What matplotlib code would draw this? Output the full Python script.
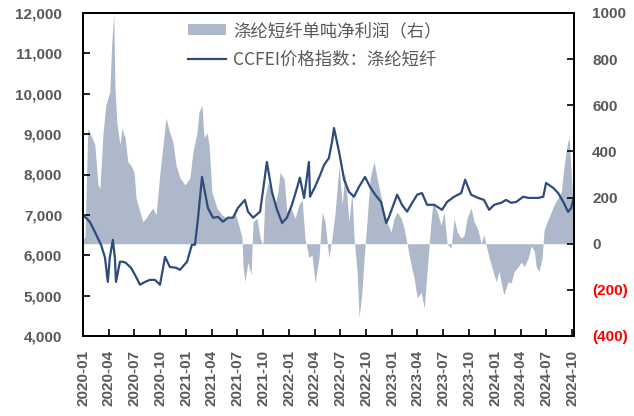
import matplotlib
matplotlib.use("Agg")
import matplotlib.pyplot as plt
import matplotlib.dates as mdates
import matplotlib.ticker as mticker
import pandas as pd

# CCFEI price index: polyester staple fibre (yuan/ton, left axis)
price_dates = [
    "2020-01-01", "2020-01-25", "2020-02-12", "2020-03-05", "2020-03-19", "2020-03-29",
    "2020-04-05", "2020-04-16", "2020-04-23", "2020-04-27", "2020-05-11", "2020-05-22",
    "2020-06-01", "2020-06-19", "2020-07-03", "2020-07-21", "2020-08-08", "2020-08-25",
    "2020-09-12", "2020-09-30", "2020-10-18", "2020-11-04", "2020-11-26", "2020-12-10",
    "2021-01-04", "2021-01-21", "2021-02-01", "2021-02-12", "2021-02-26", "2021-03-08",
    "2021-03-19", "2021-04-06", "2021-04-24", "2021-05-11", "2021-05-29", "2021-06-16",
    "2021-07-03", "2021-07-28", "2021-08-08", "2021-08-26", "2021-09-20", "2021-10-14",
    "2021-11-01", "2021-11-19", "2021-12-07", "2021-12-24", "2022-01-11", "2022-01-29",
    "2022-02-08", "2022-02-23", "2022-03-12", "2022-03-16", "2022-04-03", "2022-04-21",
    "2022-05-05", "2022-05-22", "2022-06-02", "2022-06-09", "2022-06-27", "2022-07-15",
    "2022-08-01", "2022-08-19", "2022-09-06", "2022-09-27", "2022-10-15", "2022-11-02",
    "2022-11-23", "2022-12-11", "2022-12-21", "2023-01-19", "2023-02-05", "2023-02-23",
    "2023-03-09", "2023-03-31", "2023-04-17", "2023-05-05", "2023-05-30", "2023-06-27",
    "2023-07-15", "2023-08-09", "2023-09-03", "2023-09-17", "2023-10-08", "2023-11-02",
    "2023-11-23", "2023-12-11", "2023-12-29", "2024-01-23", "2024-02-09", "2024-02-27",
    "2024-03-16", "2024-04-10", "2024-04-28", "2024-06-02", "2024-06-20", "2024-06-30",
    "2024-07-25", "2024-08-12", "2024-08-30", "2024-09-16", "2024-09-27", "2024-10-04",
]
price_values = [
    7000, 6830, 6580, 6260, 5940, 5340,
    5940, 6380, 5940, 5340, 5840, 5840,
    5810, 5690, 5520, 5270, 5340, 5390,
    5390, 5270, 5960, 5710, 5690, 5640,
    5840, 6260, 6260, 6930, 7940, 7570,
    7170, 6930, 6950, 6830, 6930, 6930,
    7170, 7370, 7080, 6930, 7080, 8310,
    7570, 7125, 6800, 6930, 7250, 7670,
    7920, 7420, 8310, 7450, 7700, 7990,
    8240, 8410, 8810, 9150, 8560, 7870,
    7570, 7450, 7700, 7940, 7690, 7500,
    7320, 6800, 6950, 7500, 7250, 7080,
    7250, 7500, 7540, 7250, 7250, 7125,
    7320, 7450, 7540, 7870, 7500, 7420,
    7370, 7125, 7250, 7300, 7370, 7300,
    7320, 7450, 7420, 7420, 7450, 7790,
    7670, 7540, 7320, 7075, 7170, 7370,
]

# Net profit per ton of polyester staple fibre (yuan/ton, right axis)
profit_dates = [
    "2020-01-01", "2020-01-08", "2020-01-18", "2020-01-29", "2020-02-12", "2020-02-23",
    "2020-03-01", "2020-03-12", "2020-03-22", "2020-04-05", "2020-04-12", "2020-04-19",
    "2020-04-23", "2020-04-30", "2020-05-11", "2020-05-18", "2020-05-29", "2020-06-08",
    "2020-06-19", "2020-06-30", "2020-07-07", "2020-07-21", "2020-07-31", "2020-08-11",
    "2020-08-25", "2020-09-05", "2020-09-16", "2020-09-30", "2020-10-11", "2020-10-21",
    "2020-11-04", "2020-11-15", "2020-11-26", "2020-12-10", "2020-12-28", "2021-01-14",
    "2021-01-25", "2021-02-08", "2021-02-15", "2021-02-26", "2021-03-05", "2021-03-16",
    "2021-03-23", "2021-04-02", "2021-04-20", "2021-05-08", "2021-05-25", "2021-06-05",
    "2021-06-23", "2021-07-03", "2021-07-18", "2021-07-21", "2021-07-28", "2021-08-08",
    "2021-08-19", "2021-08-26", "2021-09-09", "2021-09-20", "2021-09-30", "2021-10-07",
    "2021-10-18", "2021-11-01", "2021-11-12", "2021-11-22", "2021-11-30", "2021-12-14",
    "2021-12-24", "2022-01-04", "2022-01-22", "2022-02-05", "2022-02-16", "2022-02-26",
    "2022-03-12", "2022-03-23", "2022-04-03", "2022-04-17", "2022-04-28", "2022-05-08",
    "2022-05-22", "2022-06-02", "2022-06-13", "2022-06-27", "2022-07-08", "2022-07-18",
    "2022-08-01", "2022-08-12", "2022-08-19", "2022-08-30", "2022-09-06", "2022-09-16",
    "2022-09-24", "2022-10-04", "2022-10-15", "2022-10-29", "2022-11-09", "2022-11-23",
    "2022-12-04", "2022-12-14", "2022-12-28", "2023-01-08", "2023-01-19", "2023-02-02",
    "2023-02-12", "2023-02-23", "2023-03-09", "2023-03-20", "2023-03-31", "2023-04-14",
    "2023-04-25", "2023-05-05", "2023-05-19", "2023-05-26", "2023-06-10", "2023-06-24",
    "2023-07-04", "2023-07-15", "2023-07-29", "2023-08-09", "2023-08-20", "2023-09-03",
    "2023-09-13", "2023-09-24", "2023-10-08", "2023-10-19", "2023-11-02", "2023-11-13",
    "2023-11-23", "2023-11-30", "2023-12-11", "2023-12-25", "2024-01-05", "2024-01-15",
    "2024-01-30", "2024-02-02", "2024-02-16", "2024-02-27", "2024-03-09", "2024-03-23",
    "2024-04-03", "2024-04-14", "2024-04-28", "2024-05-08", "2024-05-19", "2024-05-26",
    "2024-06-05", "2024-06-16", "2024-06-23", "2024-07-04", "2024-07-18", "2024-07-29",
    "2024-08-12", "2024-08-23", "2024-09-02", "2024-09-13", "2024-09-20", "2024-09-27",
    "2024-10-04",
]
profit_values = [
    20, 30, 500, 470, 430, 255,
    240, 480, 600, 660, 870, 1000,
    690, 525, 430, 500, 460, 355,
    340, 310, 200, 137, 95, 110,
    137, 155, 125, 310, 430, 545,
    480, 440, 340, 285, 255, 285,
    400, 480, 570, 600, 460, 480,
    430, 225, 155, 125, 110, 110,
    137, 95, 25, -90, -165, -80,
    -135, 95, 110, 25, -5, 200,
    265, 225, 170, 225, 310, 280,
    137, 165, 110, 170, 190, 25,
    -60, -50, -170, -60, 137, 95,
    -60, 25, 137, 340, 170, 310,
    95, 225, 25, -120, -320, -210,
    -60, 95, 285, 355, 285, 200,
    125, 95, 50, 110, 137, 110,
    70, 0, -90, -150, -235, -210,
    -280, -120, 95, 180, 137, 80,
    137, 0, -20, 110, 50, 25,
    35, 110, 155, 95, 60, 0,
    40, -5, -60, -120, -165, -120,
    -210, -220, -165, -170, -120, -100,
    -80, -100, -60, -10, -30, -100,
    -120, -60, 60, 95, 137, 170,
    200, 225, 340, 430, 460, 310,
    170,
]

left_ticks = [4000, 5000, 6000, 7000, 8000, 9000, 10000, 11000, 12000]
right_ticks = [-400, -200, 0, 200, 400, 600, 800, 1000]

profit_label = "涤纶短纤单吨净利润（右）"
price_label = "CCFEI价格指数：涤纶短纤"

plt.rcParams["font.family"] = ["Liberation Sans", "Noto Sans CJK SC", "DejaVu Sans"]

GRAY = "#595959"
BAR = "#ADB9CA"
LINE = "#2E4B7C"

px = pd.to_datetime(price_dates)
pf = pd.to_datetime(profit_dates)

fig = plt.figure(figsize=(6.34, 4.16), dpi=100)
ax = fig.add_axes([83 / 634, 1 - 336 / 416, (574 - 83) / 634, (336 - 13) / 416])
ax2 = ax.twinx()

area = ax2.fill_between(pf, profit_values, 0, color=BAR, linewidth=0, label=profit_label)
line, = ax.plot(px, price_values, color=LINE, linewidth=1.6, label=price_label)

ax.set_zorder(ax2.get_zorder() + 1)
ax.patch.set_visible(False)

ax.set_ylim(4000, 12000)
ax.set_yticks(left_ticks)
ax.yaxis.set_major_formatter(mticker.FuncFormatter(lambda v, p: f"{int(v):,}"))
ax2.set_ylim(-400, 1000)
ax2.set_yticks(right_ticks)
ax2.yaxis.set_major_formatter(
    mticker.FuncFormatter(lambda v, p: f"({abs(int(v))})" if v < 0 else f"{int(v)}"))

ax.set_xlim(pd.Timestamp("2020-01-01"), pd.Timestamp("2024-10-07"))
ax.xaxis.set_major_locator(mdates.MonthLocator(bymonth=[1, 4, 7, 10]))
ax.xaxis.set_major_formatter(mdates.DateFormatter("%Y-%m"))

for a in (ax, ax2):
    for s in a.spines.values():
        s.set_color("black")
        s.set_linewidth(1.4)

ax.tick_params(axis="y", direction="in", length=5, width=1.2, pad=15,
               labelsize=11, labelcolor=GRAY)
ax.tick_params(axis="x", direction="in", length=5, width=1.2, pad=10,
               labelsize=11, labelcolor=GRAY, labelrotation=90)
ax2.tick_params(axis="y", direction="in", length=5, width=1.2, pad=13,
                labelsize=11, labelcolor=GRAY)
for lab in ax.get_xticklabels() + ax.get_yticklabels():
    lab.set_fontweight("bold")
for lab, v in zip(ax2.get_yticklabels(), right_ticks):
    lab.set_fontweight("bold")
    if v < 0:
        lab.set_color("#FF0000")

leg = ax.legend([area, line], [profit_label, price_label],
                loc="upper left", bbox_to_anchor=((188 - 83) / 491, (336 - 22) / 323),
                frameon=False, borderpad=0, borderaxespad=0, handlelength=2.2,
                handleheight=0.6, handletextpad=0.4, labelspacing=0.6,
                prop={"family": ["Noto Sans CJK SC", "DejaVu Sans"], "size": 12.5})
for t in leg.get_texts():
    t.set_color(GRAY)

fig.savefig("out.png", dpi=100)
